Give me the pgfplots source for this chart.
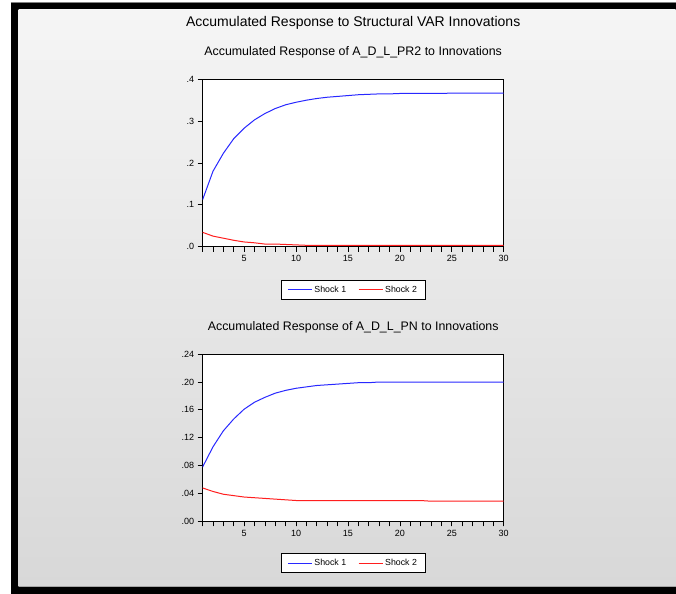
\documentclass[border=0pt]{standalone}
\usepackage{fontspec}
\setmainfont{Liberation Sans}
\usepackage{pgfplots}
\usepackage{pgfplotstable}
\pgfplotsset{compat=1.18}

\definecolor{shockone}{RGB}{40,40,255}
\definecolor{shocktwo}{RGB}{255,30,30}
\definecolor{bgtop}{RGB}{245,245,245}
\definecolor{bgbot}{RGB}{216,216,216}

% accumulated responses, periods 1..30
\pgfplotstableread{
x   s1    s2
1   0.112 0.034
2   0.180 0.025
3   0.223 0.020
4   0.258 0.015
5   0.283 0.011
6   0.303 0.009
7   0.318 0.006
8   0.330 0.006
9   0.339 0.005
10  0.345 0.004
11  0.350 0.003
12  0.354 0.003
13  0.357 0.003
14  0.359 0.003
15  0.361 0.003
16  0.363 0.003
17  0.364 0.003
18  0.365 0.003
19  0.365 0.003
20  0.366 0.003
21  0.366 0.003
22  0.366 0.003
23  0.366 0.003
24  0.366 0.003
25  0.367 0.003
26  0.367 0.003
27  0.367 0.003
28  0.367 0.003
29  0.367 0.003
30  0.367 0.003
}\prtwo

\pgfplotstableread{
x   s1    s2
1   0.078 0.048
2   0.107 0.043
3   0.130 0.039
4   0.147 0.037
5   0.161 0.035
6   0.171 0.034
7   0.178 0.033
8   0.184 0.032
9   0.188 0.031
10  0.191 0.030
11  0.193 0.030
12  0.195 0.030
13  0.196 0.030
14  0.197 0.030
15  0.198 0.030
16  0.199 0.030
17  0.199 0.030
18  0.200 0.030
19  0.200 0.030
20  0.200 0.030
21  0.200 0.030
22  0.200 0.030
23  0.200 0.029
24  0.200 0.029
25  0.200 0.029
26  0.200 0.029
27  0.200 0.029
28  0.200 0.029
29  0.200 0.029
30  0.200 0.029
}\pn

\pgfplotsset{
  s1line/.style={draw=shockone, line width=1pt,
    legend image code/.code={\begin{pgfscope}\pgfsetlinewidth{1pt}\pgfsetstrokecolor{shockone}%
      \pgfpathmoveto{\pgfpoint{0pt}{0pt}}\pgfpathlineto{\pgfpoint{24pt}{0pt}}\pgfusepath{stroke}\end{pgfscope}}},
  s2line/.style={draw=shocktwo, line width=1pt,
    legend image code/.code={\begin{pgfscope}\pgfsetlinewidth{1pt}\pgfsetstrokecolor{shocktwo}%
      \pgfpathmoveto{\pgfpoint{0pt}{0pt}}\pgfpathlineto{\pgfpoint{24pt}{0pt}}\pgfusepath{stroke}\end{pgfscope}}},
  irf/.style={
    scale only axis,
    width=301.3pt, height=167.4pt,
    anchor=south west,
    xmin=1, xmax=30,
    axis background/.style={fill=white},
    axis line style={black, line width=0.8pt},
    tick align=outside, xtick pos=left, ytick pos=left,
    major tick length=5pt, minor tick length=5pt,
    tick style={black, line width=0.8pt},
    xtick={5,10,15,20,25,30},
    xticklabels={5,10,15,20,25,30},
    minor xtick={1,...,30},
    tick label style={font=\fontsize{9}{10}\selectfont},
    title style={at={(0.5,1)}, anchor=center, yshift=21.3pt,
      font=\fontsize{12.4}{14}\selectfont},
    legend style={at={(0.5,0)}, anchor=center, line width=0.8pt,
      fill=white, font=\fontsize{8.8}{10}\selectfont, legend columns=2,
      inner xsep=6pt, inner ysep=3.5pt,
      /tikz/every even column/.append style={column sep=10pt}},
    legend cell align=left,
  }
}

\begin{document}
\begin{tikzpicture}[x=1pt,y=1pt]
% window frame
\fill[white] (0,0) rectangle (676,594);
\fill[black] (10.7,0) rectangle (676,591.7);
\draw[gray, line width=0.7pt] (10.7,591.7) -- (676,591.7);
\shade[top color=bgtop, bottom color=bgbot] (18.7,7.3) rectangle (676,584);
\draw[gray!70, line width=0.7pt] (18.7,7.6) -- (676,7.6);

\node[font=\fontsize{14}{16}\selectfont] at (353.4,571) {Accumulated Response to Structural VAR Innovations};

\begin{axis}[irf, at={(202.7pt,347.3pt)},
  ymin=0, ymax=0.4,
  ytick={0,0.1,0.2,0.3,0.4},
  yticklabels={.0,.1,.2,.3,.4},
  title={Accumulated Response of A\_D\_L\_PR2 to Innovations},
  legend style={yshift=-43.3pt}]
\addplot[s1line] table[x=x, y=s1] {\prtwo};
\addplot[s2line] table[x=x, y=s2] {\prtwo};
\legend{Shock 1, Shock 2}
\end{axis}

\begin{axis}[irf, at={(202.7pt,72.3pt)},
  ymin=0, ymax=0.24,
  ytick={0,0.04,0.08,0.12,0.16,0.20,0.24},
  yticklabels={.00,.04,.08,.12,.16,.20,.24},
  title={Accumulated Response of A\_D\_L\_PN to Innovations},
  legend style={yshift=-41.6pt}]
\addplot[s1line] table[x=x, y=s1] {\pn};
\addplot[s2line] table[x=x, y=s2] {\pn};
\legend{Shock 1, Shock 2}
\end{axis}
\end{tikzpicture}
\end{document}
